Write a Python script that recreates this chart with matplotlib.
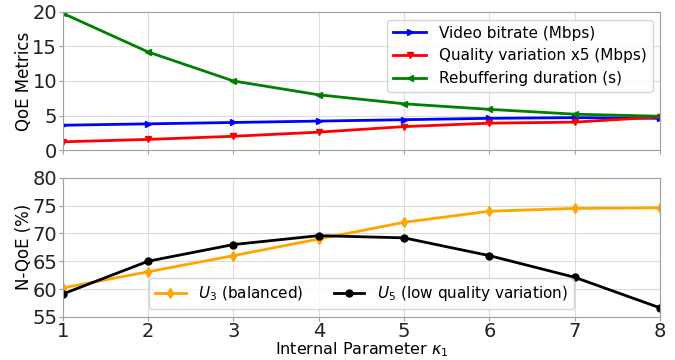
import matplotlib.pyplot as plt
import numpy as np

kappa = [1, 2, 3, 4, 5, 6, 7, 8]

bitrate = [3.6, 3.8, 4.0, 4.2, 4.4, 4.6, 4.7, 4.6]
quality_var = [1.2, 1.55, 2.0, 2.6, 3.4, 3.9, 4.05, 4.8]
rebuffering = [19.8, 14.2, 10.0, 8.0, 6.7, 5.9, 5.2, 4.9]

u3_balanced = [60.2, 63.1, 66.0, 69.0, 72.0, 74.0, 74.5, 74.6]
u5_lowvar = [59.1, 65.0, 68.0, 69.6, 69.2, 66.0, 62.1, 56.6]

plt.rcParams['font.family'] = ['DejaVu Sans']
plt.rcParams['font.size'] = 12
plt.rcParams['axes.edgecolor'] = '#a0a0a0'
plt.rcParams['xtick.color'] = '#a0a0a0'
plt.rcParams['ytick.color'] = '#a0a0a0'
plt.rcParams['xtick.labelcolor'] = '#222222'
plt.rcParams['ytick.labelcolor'] = '#222222'

fig = plt.figure(figsize=(6.75, 3.6), dpi=100)


def style(ax):
    ax.set_xlim(1, 8)
    ax.set_xticks(kappa)
    ax.grid(True, color='#dcdcdc')
    ax.tick_params(labelsize=14, pad=1, length=3)
    # y label sits closer to the tick labels than default
    ax.yaxis.set_label_coords(-0.05, 0.5)


# top panel: raw QoE metrics
ax1 = fig.add_axes([0.093, 0.583, 0.885, 0.384])
ax1.plot(kappa, bitrate, '->', color='blue', lw=2, ms=5, label='Video bitrate (Mbps)')
ax1.plot(kappa, quality_var, '-v', color='red', lw=2, ms=5, label='Quality variation x5 (Mbps)')
ax1.plot(kappa, rebuffering, '-<', color='green', lw=2, ms=5, label='Rebuffering duration (s)')
style(ax1)
ax1.set_ylim(0, 20)
ax1.set_yticks([0, 5, 10, 15, 20])
ax1.tick_params(labelbottom=False)
ax1.set_ylabel('QoE Metrics')
ax1.legend(loc='upper right', fontsize=11, handlelength=2.2)

# bottom panel: normalized QoE
ax2 = fig.add_axes([0.093, 0.12, 0.885, 0.386])
ax2.plot(kappa, u3_balanced, '-d', color='orange', lw=2, ms=5,
         label=r'$U_3$ (balanced)')
ax2.plot(kappa, u5_lowvar, '-o', color='black', lw=2, ms=5,
         label=r'$U_5$ (low quality variation)')
style(ax2)
ax2.set_ylim(55, 80)
ax2.set_yticks([55, 60, 65, 70, 75, 80])
ax2.set_ylabel('N-QoE (%)')
ax2.set_xlabel(r'Internal Parameter $\kappa_1$', fontsize=11.5, labelpad=-1)
ax2.legend(loc='lower center', ncol=2, fontsize=11, bbox_to_anchor=(0.5, 0.0))

fig.savefig('out.png', dpi=100)
